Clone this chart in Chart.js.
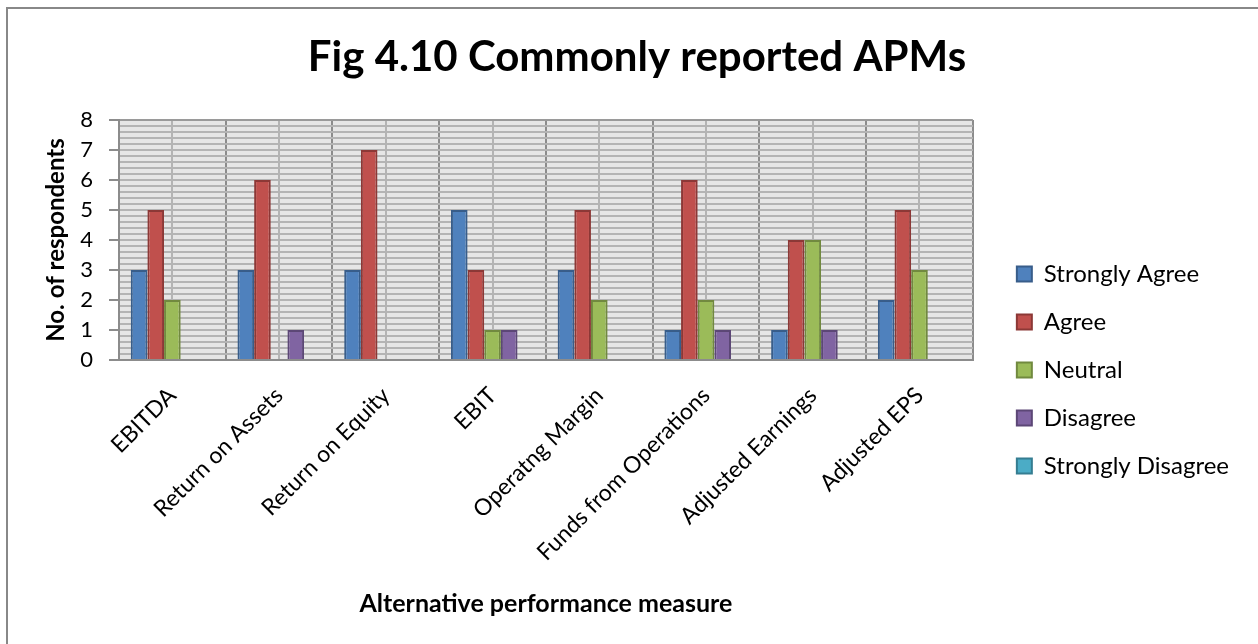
<!DOCTYPE html>
<html>
<head>
<meta charset="utf-8">
<script src="https://cdn.jsdelivr.net/npm/chart.js@4"></script>
<style>
  body { margin: 0; background: #fff; }
  #frame {
    position: absolute; left: 6px; top: 7px;
    width: 1300px; height: 700px;
    border: 2px solid #888;
  }
  #wrap { position: absolute; left: 0; top: 0; width: 1258px; height: 644px; }
</style>
</head>
<body>
<div id="frame"></div>
<div id="wrap"><canvas id="myChart"></canvas></div>
<script>
// categories on the x axis
const labels = [
  "EBITDA", "Return on Assets", "Return on Equity", "EBIT",
  "Operatng Margin", "Funds from Operations", "Adjusted Earnings", "Adjusted EPS"
];

// number of respondents per answer
const stronglyAgree    = [3, 3, 3, 5, 3, 1, 1, 2];
const agree            = [5, 6, 7, 3, 5, 6, 4, 5];
const neutral          = [2, 0, 0, 1, 2, 2, 4, 3];
const disagree         = [0, 1, 0, 1, 0, 1, 1, 0];
const stronglyDisagree = [0, 0, 0, 0, 0, 0, 0, 0];

const seriesNames = ["Strongly Agree", "Agree", "Neutral", "Disagree", "Strongly Disagree"];
const fills   = ["#4F81BD", "#C0504D", "#9BBB59", "#8064A2", "#4BACC6"];
const borders = ["#385D8A", "#8C3836", "#71893F", "#5C4776", "#357D91"];
const series  = [stronglyAgree, agree, neutral, disagree, stronglyDisagree];

const font = "Lato";
const legendGapPx = 20; // extra room between plot and legend

// grey plot area like the excel chart
const plotBg = {
  id: "plotBg",
  beforeDraw(chart) {
    const a = chart.chartArea;
    const ctx = chart.ctx;
    ctx.save();
    ctx.fillStyle = "#e6e6e6";
    ctx.fillRect(a.left, a.top, a.right - a.left, a.bottom - a.top);
    ctx.restore();
  }
};

// push the legend items a bit away from the plot
const legendGap = {
  id: "legendGap",
  afterInit(chart) {
    const lg = chart.legend;
    const fit = lg.fit;
    lg.fit = function () { fit.call(this); this.width += legendGapPx; };
    const draw = lg.draw;
    lg.draw = function () {
      const c = this.ctx;
      c.save();
      c.translate(legendGapPx, 0);
      draw.call(this);
      c.restore();
    };
  }
};

const isWhole = v => Math.abs(v - Math.round(v)) < 1e-6;

const data = {
  labels: labels,
  datasets: series.map((vals, i) => ({
    label: seriesNames[i],
    data: vals,
    xAxisID: "x",
    yAxisID: "y",
    backgroundColor: fills[i],
    borderColor: borders[i],
    borderWidth: 2,
    barPercentage: 1,
    categoryPercentage: 0.78
  }))
};

const config = {
  type: "bar",
  data: data,
  options: {
    responsive: true,
    maintainAspectRatio: false,
    animation: false,
    layout: { padding: { left: 35, right: 19, top: 0, bottom: 20 } },
    plugins: {
      title: {
        display: true,
        text: "Fig 4.10 Commonly reported APMs",
        color: "#000",
        font: { family: font, size: 42, weight: "bold" },
        padding: { top: 32, bottom: 37.6 }
      },
      legend: {
        position: "right",
        title: { display: true, text: "", font: { size: 10, lineHeight: 1 }, padding: { top: 106, bottom: 0 } },
        labels: {
          color: "#000",
          font: { family: font, size: 24 },
          boxWidth: 15,
          boxHeight: 15,
          padding: 24
        }
      },
      tooltip: { enabled: false }
    },
    scales: {
      x: {
        offset: true,
        grid: { offset: true, color: "#8c8c8c", lineWidth: 2, drawTicks: false },
        border: { color: "#8c8c8c", width: 2 },
        ticks: {
          color: "#000",
          font: { family: font, size: 23 },
          minRotation: 45,
          maxRotation: 45,
          padding: 22
        },
        title: {
          display: true,
          text: "Alternative performance measure",
          color: "#000",
          font: { family: font, size: 25, weight: "bold" },
          padding: { top: 0, bottom: 5 }
        },
        afterFit: s => { s.height = 264; }
      },
      xc: {
        type: "category",
        position: "bottom",
        offset: true,
        grid: { offset: false, color: "#b4b4b4", lineWidth: 2, drawTicks: false },
        border: { display: false },
        ticks: { display: false },
        afterFit: s => { s.height = 0; }
      },
      y: {
        min: 0,
        max: 8,
        grid: {
          color: ctx => ctx.tick && ctx.tick.value === 8 ? "#9a9a9a" : "#b4b4b4",
          lineWidth: 2,
          tickLength: 10,
          tickColor: ctx => ctx.tick && isWhole(ctx.tick.value) ? "#8c8c8c" : "rgba(0,0,0,0)"
        },
        border: { color: "#8c8c8c", width: 2 },
        ticks: {
          stepSize: 0.2,
          autoSkip: false,
          color: "#000",
          padding: 16,
          font: { family: font, size: 22 },
          callback: v => isWhole(v) ? Math.round(v) : ""
        },
        title: {
          display: true,
          text: "No. of respondents",
          color: "#000",
          font: { family: font, size: 24, weight: "bold" },
          padding: { top: 7, bottom: 0 }
        },
        afterFit: s => { s.width = 84; }
      }
    }
  },
  plugins: [plotBg, legendGap]
};

const myChart = new Chart(document.getElementById("myChart"), config);
</script>
</body>
</html>
